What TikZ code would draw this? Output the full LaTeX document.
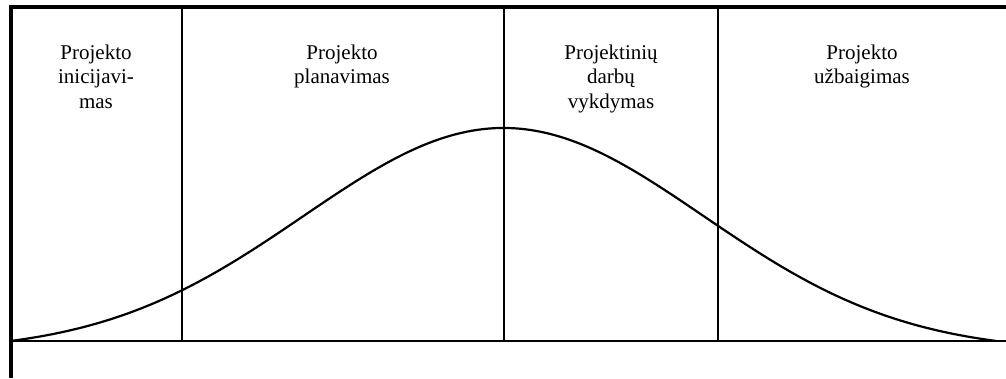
\documentclass[tikz,border=0pt]{standalone}
\usepackage{fontspec}
\setmainfont{Liberation Serif}
\begin{document}
\begin{tikzpicture}[x=1pt,y=-1pt,
  frame/.style={line width=4pt},
  thin/.style={line width=2pt},
  curve/.style={line width=2.2pt},
  label/.style={align=center,anchor=north,inner sep=0pt,font=\fontsize{21}{24.5}\selectfont}]
\path[use as bounding box] (0,0) rectangle (1006,378);
% frame
\coordinate (tl) at (10.5,6.5);
\coordinate (tr) at (1006,6.5);
\coordinate (bl) at (10.5,378);
\draw[frame] (tr) -- (tl) -- (bl);
% baseline
\coordinate (b0) at (10.5,341);
\coordinate (b1) at (1006,341);
\draw[thin] (b0) -- (b1);
% dividers
\foreach \n/\x in {d1/182,d2/503.5,d3/718}{
  \coordinate (\n t) at (\x,8);
  \coordinate (\n b) at (\x,341);
  \draw[thin] (\n t) -- (\n b);
}
% curve
\draw[curve] plot[domain=10.5:996,samples=240,smooth]
  (\x,{341-213*(exp(-((\x-503.5)/200)^2/2)-0.04793)/(1-0.04793)});
% labels
\node[label] (l1) at (96,44.5) {Projekto\\inicijavi-\\mas};
\node[label] (l2) at (342,44.5) {Projekto\\planavimas};
\node[label] (l3) at (611,44.5) {Projektinių\\darbų\\vykdymas};
\node[label] (l4) at (862,44.5) {Projekto\\užbaigimas};
\end{tikzpicture}
\end{document}
